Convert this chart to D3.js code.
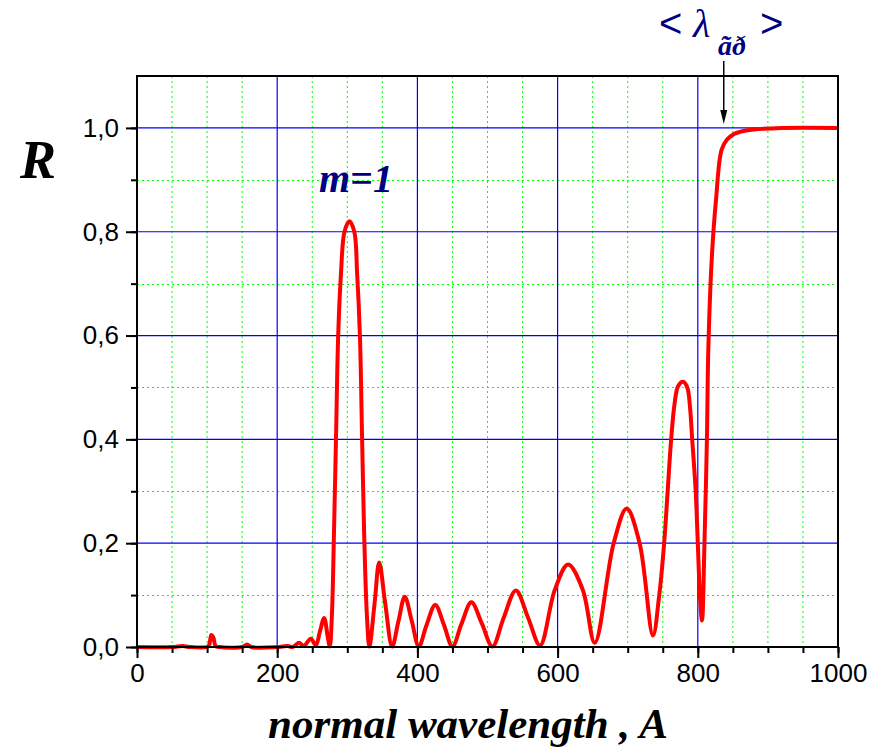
<!DOCTYPE html>
<html>
<head>
<meta charset="utf-8">
<script src="https://cdn.jsdelivr.net/npm/d3@7"></script>
<style>
    body { margin: 0; background: #fff; }
    svg { display: block; }
</style>
</head>
<body>
<div id="chart"></div>
<script>
// reflectance curve: [wavelength, R]
var curveData = [
    [0, 0], [50, 0], [65, 0.002], [75, 0], [100, 0], [103, 0.004], [106, 0.023], [109, 0.018],
    [112, 0.002], [118, 0], [150, 0], [157, 0.005], [163, 0], [200, 0], [215, 0.002], [222, 0],
    [231, 0.008], [238, 0.002], [248, 0.016], [255, 0.003], [261, 0.03], [267, 0.056], [272, 0.02],
    [275, 0.001], [278, 0.06], [281, 0.22], [284, 0.41], [287, 0.6], [291, 0.72], [296, 0.80], [303, 0.82],
    [310, 0.80], [314, 0.72], [318, 0.6], [321, 0.41], [324, 0.22], [328, 0.06], [331.5, 0.001],
    [339, 0.085], [345.5, 0.163], [354, 0.085], [364, 0.001],
    [373, 0.05], [382, 0.097], [392, 0.05], [402, 0.001],
    [413, 0.042], [425.5, 0.081], [438, 0.042], [450, 0.001],
    [463, 0.045], [477, 0.086], [492, 0.045], [507, 0.001],
    [523, 0.056], [540.5, 0.109], [558, 0.056], [575, 0.003],
    [596, 0.11], [615, 0.159], [636, 0.11], [653, 0.008],
    [680, 0.2], [698.5, 0.267], [717, 0.2], [736, 0.022],
    [745, 0.1], [752, 0.2], [757, 0.3], [762, 0.4], [767, 0.47], [772, 0.503], [779, 0.511],
    [785, 0.5], [789, 0.46], [792, 0.4], [797, 0.3], [800, 0.2], [803, 0.1], [806, 0.051],
    [809.5, 0.2], [813, 0.4], [815, 0.573], [820, 0.75], [826, 0.862], [834, 0.958], [842, 0.978], [850, 0.987],
    [865, 0.994], [880, 0.997], [920, 1.0], [1000, 1.0]
];

var xTicks = [0, 200, 400, 600, 800, 1000];
var xMinorTicks = d3.range(0, 1001, 50);
var yTicks = [0, 0.2, 0.4, 0.6, 0.8, 1.0];
var yMinorTicks = d3.range(0, 1.11, 0.1);
var arrowAt = 837;

var width = 883, height = 751;
var margin = { top: 76, right: 45, bottom: 104, left: 137 };
var plotW = width - margin.left - margin.right;
var plotH = height - margin.top - margin.bottom;

var x = d3.scaleLinear().domain([0, 1000]).range([0, plotW]);
var y = d3.scaleLinear().domain([0, 1.1]).range([plotH, 0]);

var svg = d3.select("#chart").append("svg")
    .attr("width", width)
    .attr("height", height);

var g = svg.append("g")
    .attr("transform", "translate(" + margin.left + "," + margin.top + ")");

// minor grid (green dotted)
g.selectAll("line.vminor")
    .data(xMinorTicks.filter(function (d) { return d % 200 !== 0; }))
    .enter().append("line")
    .attr("x1", function (d) { return x(d); })
    .attr("x2", function (d) { return x(d); })
    .attr("y1", 0).attr("y2", plotH)
    .attr("stroke", "#00ff00").attr("stroke-width", 1)
    .attr("stroke-dasharray", "2,3");

g.selectAll("line.hminor")
    .data(yMinorTicks.filter(function (d, i) { return i % 2 === 1; }))
    .enter().append("line")
    .attr("x1", 0).attr("x2", plotW)
    .attr("y1", function (d) { return Math.round(y(d)) + 0.5; })
    .attr("y2", function (d) { return Math.round(y(d)) + 0.5; })
    .attr("stroke", "#00ff00").attr("stroke-width", 1)
    .attr("stroke-dasharray", "2,3");

// major grid (blue)
g.selectAll("line.vmajor")
    .data(xTicks.slice(1, -1))
    .enter().append("line")
    .attr("x1", function (d) { return x(d); })
    .attr("x2", function (d) { return x(d); })
    .attr("y1", 0).attr("y2", plotH)
    .attr("stroke", "#0000ff").attr("stroke-width", 1.2);

g.selectAll("line.hmajor")
    .data(yTicks.slice(1))
    .enter().append("line")
    .attr("x1", 0).attr("x2", plotW)
    .attr("y1", function (d) { return y(d); })
    .attr("y2", function (d) { return y(d); })
    .attr("stroke", "#0000ff").attr("stroke-width", 1.2);

// curve
var line = d3.line()
    .x(function (d) { return x(d[0]); })
    .y(function (d) { return y(d[1]); })
    .curve(d3.curveCatmullRom.alpha(0.5));

g.append("path")
    .datum(curveData)
    .attr("d", line)
    .attr("fill", "none")
    .attr("stroke", "#ff0000")
    .attr("stroke-width", 4)
    .attr("stroke-linejoin", "round");

// frame
g.append("rect")
    .attr("width", plotW).attr("height", plotH)
    .attr("fill", "none")
    .attr("stroke", "#000").attr("stroke-width", 2);

// axes
var fmtY = function (d) { return d3.format(".1f")(d).replace(".", ","); };

g.append("g")
    .attr("transform", "translate(0," + plotH + ")")
    .call(d3.axisBottom(x).tickValues(xTicks).tickSize(11).tickPadding(6).tickFormat(d3.format("d")));
g.append("g")
    .attr("transform", "translate(0," + plotH + ")")
    .call(d3.axisBottom(x).tickValues(xMinorTicks).tickSize(6).tickFormat(""));

g.append("g")
    .call(d3.axisLeft(y).tickValues(yTicks).tickSize(11).tickPadding(7).tickFormat(fmtY));
g.append("g")
    .call(d3.axisLeft(y).tickValues(yMinorTicks.slice(0, 11)).tickSize(6).tickFormat(""));

g.selectAll(".domain").remove();
g.selectAll(".tick line").attr("stroke", "#000").attr("stroke-width", 2);
g.selectAll(".tick text")
    .attr("fill", "#000")
    .style("font-family", "Arial, 'Liberation Sans', sans-serif")
    .style("font-size", "26px");

// axis titles
svg.append("text")
    .attr("x", 468).attr("y", 738)
    .attr("text-anchor", "middle")
    .style("font-family", "'Times New Roman', 'Liberation Serif', serif")
    .style("font-weight", "bold").style("font-style", "italic")
    .style("font-size", "43px")
    .text("normal wavelength , A");

svg.append("text")
    .attr("x", 20).attr("y", 178)
    .style("font-family", "'Times New Roman', 'Liberation Serif', serif")
    .style("font-weight", "bold").style("font-style", "italic")
    .style("font-size", "54px")
    .text("R");

// annotations
svg.append("text")
    .attr("x", 319).attr("y", 192)
    .attr("fill", "#000080")
    .style("font-family", "'Times New Roman', 'Liberation Serif', serif")
    .style("font-weight", "bold").style("font-style", "italic")
    .style("font-size", "40px")
    .text("m=1");

var lambdaLabel = svg.append("text")
    .attr("y", 37)
    .attr("fill", "#000080")
    .style("font-family", "Arial, 'Liberation Sans', sans-serif")
    .style("font-size", "40px");
lambdaLabel.append("tspan").attr("x", 659).text("<");
lambdaLabel.append("tspan").attr("x", 693)
    .style("font-family", "'Times New Roman', 'Liberation Serif', serif")
    .style("font-style", "italic").style("font-size", "40px")
    .text("λ");
lambdaLabel.append("tspan").attr("x", 760).text(">");

svg.append("text")
    .attr("x", 718).attr("y", 55)
    .attr("fill", "#000080")
    .style("font-family", "'Times New Roman', 'Liberation Serif', serif")
    .style("font-weight", "bold").style("font-style", "italic")
    .style("font-size", "28px")
    .text("ãð");

// arrow down to the edge
var ax = margin.left + x(arrowAt);
svg.append("line")
    .attr("x1", ax).attr("x2", ax)
    .attr("y1", 61).attr("y2", 112)
    .attr("stroke", "#000").attr("stroke-width", 1.5);
svg.append("path")
    .attr("d", "M" + (ax - 3.5) + ",110 L" + (ax + 3.5) + ",110 L" + ax + ",124 Z")
    .attr("fill", "#000");
</script>
</body>
</html>
